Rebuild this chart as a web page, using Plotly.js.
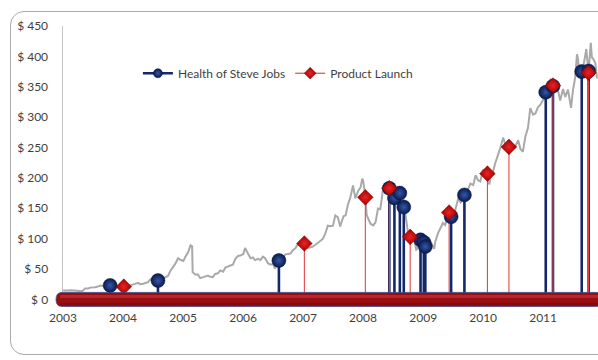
<!DOCTYPE html>
<html>
<head>
<meta charset="utf-8">
<script src="https://cdn.plot.ly/plotly-3.0.1.min.js"></script>
<style>
  html, body { margin: 0; padding: 0; background: #ffffff; }
  #wrap { position: relative; width: 598px; height: 360px; overflow: hidden; }
  #frame { position: absolute; left: 10px; top: 11px; width: 640px; height: 344px;
           border: 1px solid #ABABAB; border-radius: 14px; box-sizing: border-box; }
  #chart { position: absolute; left: 0; top: 0; width: 598px; height: 360px; }
</style>
</head>
<body>
<div id="wrap">
  <div id="frame"></div>
  <div id="chart"></div>
</div>
<script>
// Apple share price (USD, unadjusted), roughly twice a month
const priceDates = [
  '2003-01-02','2003-01-15','2003-02-03','2003-02-14','2003-03-03','2003-03-17','2003-04-01','2003-04-15',
  '2003-05-01','2003-05-15','2003-06-02','2003-06-16','2003-07-01','2003-07-15','2003-08-01','2003-08-15',
  '2003-09-02','2003-09-15','2003-10-01','2003-10-15','2003-11-03','2003-11-17','2003-12-01','2003-12-15',
  '2004-01-02','2004-01-15','2004-02-02','2004-02-17','2004-03-01','2004-03-15','2004-04-01','2004-04-15',
  '2004-05-03','2004-05-17','2004-06-01','2004-06-15','2004-07-01','2004-07-15','2004-08-02','2004-08-16',
  '2004-09-01','2004-09-15','2004-10-01','2004-10-15','2004-11-01','2004-11-15','2004-12-01','2004-12-15',
  '2005-01-03','2005-01-14','2005-02-01','2005-02-15','2005-02-25','2005-02-28','2005-03-15','2005-04-01',
  '2005-04-15','2005-05-02','2005-05-16','2005-06-01','2005-06-15','2005-07-01','2005-07-15','2005-08-01',
  '2005-08-15','2005-09-01','2005-09-15','2005-10-03','2005-10-17','2005-11-01','2005-11-15','2005-12-01',
  '2005-12-15',
  '2006-01-03','2006-01-13','2006-02-01','2006-02-15','2006-03-01','2006-03-15','2006-04-03','2006-04-17',
  '2006-05-01','2006-05-15','2006-06-01','2006-06-15','2006-07-03','2006-07-14','2006-08-01','2006-08-15',
  '2006-09-01','2006-09-15','2006-10-02','2006-10-16','2006-11-01','2006-11-15','2006-12-01','2006-12-15',
  '2007-01-03','2007-01-10','2007-01-16','2007-02-01','2007-02-15','2007-03-01','2007-03-15','2007-04-02',
  '2007-04-16','2007-05-01','2007-05-15','2007-06-01','2007-06-15','2007-07-02','2007-07-16','2007-08-01',
  '2007-08-15','2007-09-04','2007-09-17','2007-10-01','2007-10-15','2007-11-01','2007-11-15','2007-12-03',
  '2007-12-17','2007-12-27',
  '2008-01-02','2008-01-15','2008-01-23','2008-02-01','2008-02-15','2008-03-03','2008-03-17','2008-04-01',
  '2008-04-15','2008-05-01','2008-05-15','2008-06-02','2008-06-16','2008-07-01','2008-07-15','2008-08-01',
  '2008-08-15','2008-09-02','2008-09-15','2008-10-01','2008-10-15','2008-11-03','2008-11-20','2008-12-01',
  '2008-12-15','2008-12-31',
  '2009-01-15','2009-01-20','2009-02-02','2009-02-17','2009-03-09','2009-03-16','2009-04-01','2009-04-15',
  '2009-05-01','2009-05-15','2009-06-01','2009-06-15','2009-07-01','2009-07-15','2009-08-03','2009-08-17',
  '2009-09-01','2009-09-15','2009-10-01','2009-10-15','2009-11-02','2009-11-16','2009-12-01','2009-12-15',
  '2009-12-29',
  '2010-01-04','2010-01-15','2010-02-01','2010-02-08','2010-02-16','2010-03-01','2010-03-15','2010-04-01',
  '2010-04-15','2010-05-03','2010-05-17','2010-05-25','2010-06-01','2010-06-15','2010-07-01','2010-07-15',
  '2010-08-02','2010-08-16','2010-08-31','2010-09-15','2010-10-01','2010-10-15','2010-11-01','2010-11-15',
  '2010-12-01','2010-12-15',
  '2011-01-03','2011-01-18','2011-02-01','2011-02-16','2011-03-01','2011-03-15','2011-04-01','2011-04-15',
  '2011-05-02','2011-05-16','2011-06-01','2011-06-20','2011-07-01','2011-07-15','2011-07-26','2011-08-01',
  '2011-08-10','2011-08-15','2011-09-01','2011-09-21','2011-10-04','2011-10-18','2011-10-25','2011-11-01',
  '2011-11-15','2011-11-25'
];
const priceValues = [
  14.8, 14.4, 14.6, 14.9, 14.9, 14.4, 14.2, 13.5,
  14.1, 17.9, 18.0, 19.4, 19.3, 19.9, 21.1, 22.4,
  22.6, 21.1, 20.8, 23.6, 23.1, 20.8, 21.6, 20.8,
  21.4, 24.2, 22.3, 23.9, 24.7, 25.6, 27.1, 25.0,
  25.9, 27.0, 28.4, 33.0, 32.5, 31.3, 32.3, 30.0,
  34.7, 36.9, 38.7, 46.8, 53.0, 58.9, 67.7, 65.2,
  63.3, 70.0, 77.8, 89.0, 87.5, 44.9, 41.0, 41.0,
  35.1, 36.4, 36.9, 39.2, 37.1, 36.7, 41.9, 43.0,
  47.7, 45.7, 52.3, 54.4, 54.8, 57.5, 67.0, 71.6,
  72.2,
  74.8, 84.7, 75.4, 67.6, 69.1, 64.6, 66.7, 64.8,
  70.4, 67.8, 59.6, 57.6, 57.9, 50.7, 67.2, 66.5,
  67.9, 74.1, 74.9, 75.4, 81.4, 84.1, 91.3, 87.7,
  83.8, 97.0, 94.6, 84.7, 85.2, 86.8, 89.6, 93.4,
  95.0, 99.5, 107.3, 121.3, 120.5, 121.3, 138.1, 135.0,
  119.9, 136.8, 138.4, 156.3, 167.0, 187.4, 166.4, 178.9,
  184.4, 198.6,
  194.9, 169.0, 139.1, 133.8, 124.6, 121.7, 126.7, 149.5,
  148.4, 180.0, 189.7, 186.1, 176.8, 174.7, 162.0, 156.7,
  175.7, 166.2, 140.4, 109.1, 97.4, 106.9, 80.5, 88.9,
  95.4, 85.4,
  83.4, 78.2, 91.5, 94.5, 83.1, 95.4, 108.7, 117.6,
  125.8, 122.4, 139.3, 136.1, 142.8, 146.9, 166.4, 159.6,
  165.3, 175.2, 180.9, 190.6, 188.1, 204.4, 196.2, 194.2,
  211.6,
  214.0, 205.9, 194.7, 189.1, 203.4, 209.0, 223.8, 236.0,
  248.9, 266.4, 252.4, 245.2, 260.8, 259.7, 248.5, 251.5,
  261.9, 247.6, 243.1, 268.1, 282.5, 314.7, 304.2, 306.0,
  316.4, 320.4,
  329.6, 338.8, 345.0, 363.1, 349.3, 345.4, 344.6, 327.5,
  346.3, 333.3, 345.5, 315.3, 343.3, 364.9, 403.4, 396.8,
  363.7, 383.4, 381.0, 412.1, 372.5, 422.2, 397.8, 396.5,
  388.8, 363.6
];

// News about Steve Jobs' health, with the share price on the day
const healthDates = [
  '2003-10-15','2004-08-01','2006-08-07','2008-06-09','2008-07-10','2008-08-12','2008-09-05',
  '2008-12-16','2009-01-05','2009-01-14','2009-06-20','2009-09-09',
  '2011-01-17','2011-03-02','2011-08-24','2011-10-05'
];
const healthValues = [23, 31, 64, 183, 167, 175, 152, 98, 94, 87, 136, 172, 341, 351, 375, 376];

// Product launches, with the share price on the day
const launchDates = [
  '2004-01-06','2007-01-09','2008-01-15','2008-06-09','2008-10-14',
  '2009-06-08','2010-01-27','2010-06-07','2011-03-02','2011-10-04'
];
const launchValues = [21, 92, 168, 183, 103, 143, 207, 251, 352, 373];

const seriesNames = ['Health of Steve Jobs', 'Product Launch'];
const yTicks = [0, 50, 100, 150, 200, 250, 300, 350, 400, 450];
const yTickLabels = yTicks.map(v => '$ ' + v);

const NAVY = '#12286B';

// vertical stems from the baseline up to each event
function stems(dates, vals) {
  const xs = [], ys = [];
  dates.forEach((d, i) => { xs.push(d, d, null); ys.push(0, vals[i], null); });
  return { xs, ys };
}
const hs = stems(healthDates, healthValues);
const ls = stems(launchDates, launchValues);

const ballMarker = (size) => ({
  symbol: 'circle', size: size, color: '#0A1A4E',
  gradient: { type: 'radial', color: '#3557A8' },
  line: { width: 0.5, color: '#091644' }
});
const diamondMarker = (size) => ({
  symbol: 'diamond', size: size, color: '#A60000',
  gradient: { type: 'radial', color: '#E82424' },
  line: { width: 0.5, color: '#7A0000' }
});

const traces = [
  { // legend entries
    x: [null], y: [null], name: seriesNames[0], mode: 'lines+markers',
    line: { color: NAVY, width: 2.5 }, marker: ballMarker(9), hoverinfo: 'skip'
  },
  {
    x: [null], y: [null], name: seriesNames[1], mode: 'lines+markers',
    line: { color: '#D42A2A', width: 1 }, marker: diamondMarker(9), hoverinfo: 'skip'
  },
  { // share price
    x: priceDates, y: priceValues, mode: 'lines', showlegend: false,
    line: { color: '#A9A9A9', width: 2 }, hoverinfo: 'skip'
  },
  {
    x: hs.xs, y: hs.ys, mode: 'lines', showlegend: false, connectgaps: false,
    line: { color: NAVY, width: 2.6 }, hoverinfo: 'skip'
  },
  {
    x: ls.xs, y: ls.ys, mode: 'lines', showlegend: false, connectgaps: false,
    line: { color: '#E04848', width: 1.1 }, hoverinfo: 'skip'
  },
  {
    x: healthDates, y: healthValues, mode: 'markers', showlegend: false,
    marker: ballMarker(14), hoverinfo: 'skip', cliponaxis: false
  },
  {
    x: launchDates, y: launchValues, mode: 'markers', showlegend: false,
    marker: diamondMarker(12), hoverinfo: 'skip', cliponaxis: false
  }
];

// the timeline bar along $0
const barPath = 'M -1,7 L 533,7 Q 540,7 540,0 Q 540,-7 533,-7 L -1,-7 Q -7,-7 -7,0 Q -7,7 -1,7 Z';
const shapes = [
  {
    type: 'path', layer: 'above', xref: 'paper', yref: 'y',
    xsizemode: 'pixel', xanchor: 0, ysizemode: 'pixel', yanchor: 0,
    path: barPath, fillcolor: '#9A0E12', line: { color: '#3A4A8A', width: 0.8 }
  },
  {
    type: 'path', layer: 'above', xref: 'paper', yref: 'y',
    xsizemode: 'pixel', xanchor: 0, ysizemode: 'pixel', yanchor: 0,
    path: 'M -3,4.5 L 536,4.5 L 536,1.5 L -3,1.5 Z', fillcolor: '#C43A3A', opacity: 0.6,
    line: { width: 0 }
  },
  {
    type: 'path', layer: 'above', xref: 'paper', yref: 'y',
    xsizemode: 'pixel', xanchor: 0, ysizemode: 'pixel', yanchor: 0,
    path: 'M -3,-3.5 L 536,-3.5 L 536,-6 L -3,-6 Z', fillcolor: '#720A0D', opacity: 0.6,
    line: { width: 0 }
  }
];

const layout = {
  width: 598, height: 360,
  margin: { l: 63, r: 0, t: 26, b: 53 },
  paper_bgcolor: 'rgba(0,0,0,0)', plot_bgcolor: 'rgba(0,0,0,0)',
  font: { family: 'Lato, "Open Sans", sans-serif', size: 12, color: '#3F3F3F' },
  showlegend: true,
  legend: {
    orientation: 'h', x: 0.14, xanchor: 'left', y: 0.832, yanchor: 'middle',
    bgcolor: 'rgba(0,0,0,0)', font: { size: 12, color: '#3F3F3F' }
  },
  xaxis: {
    type: 'date', range: ['2003-01-01', '2011-12-01'],
    tick0: '2003-01-01', dtick: 'M12', tickformat: '%Y',
    showgrid: false, zeroline: false, showline: false, ticks: '',
    ticklabelstandoff: 2
  },
  yaxis: {
    range: [-12.5, 450], tickmode: 'array', tickvals: yTicks, ticktext: yTickLabels,
    showgrid: false, zeroline: false, showline: true,
    linecolor: '#C4C4C4', linewidth: 1.5, ticks: '', ticklabelstandoff: 11
  },
  shapes: shapes,
  hovermode: false
};

Plotly.newPlot('chart', traces, layout, { displayModeBar: false, staticPlot: true });
</script>
</body>
</html>
